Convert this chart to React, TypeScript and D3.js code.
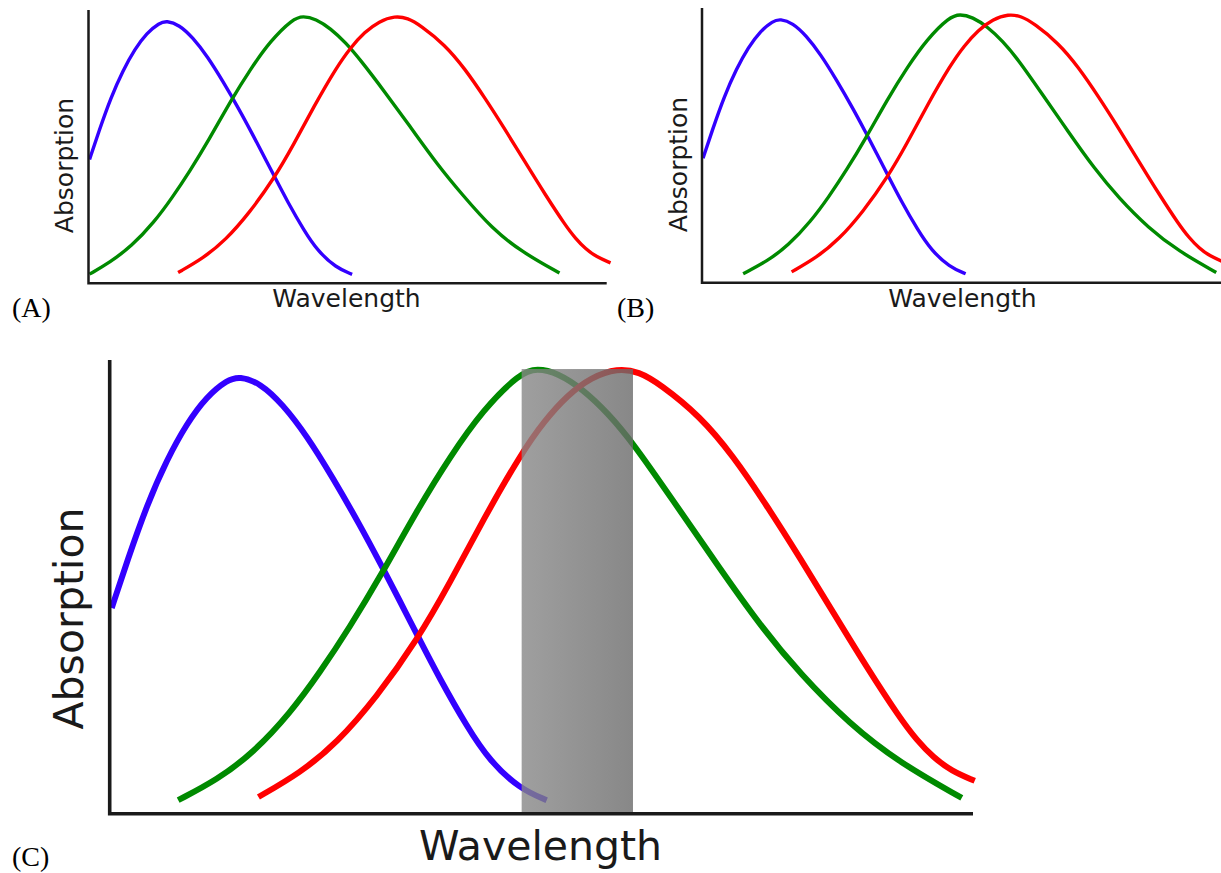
import React, { useEffect, useRef } from "react";
import * as d3 from "d3";

// [wavelength, absorption], both on a 0-100 scale
const blueCone = [[0.2,46],[2,56.5],[4.3,69],[6.6,79],[8.9,87],[11.2,93],[13.6,96.7],[15,97.5],[17.4,96],[20,91.3],[22.8,84.3],[25.8,75],[29,64.3],[31.3,56],[33.6,47.5],[35.6,40],[38.2,30.3],[41.4,19.5],[44,12],[47.5,5.8],[50.6,3.3]];
const greenCone = [[7.9,3.3],[12.4,7.8],[16.6,13.8],[20.9,22.7],[24.3,31.6],[27.8,41.8],[31.3,52.9],[35.6,67.8],[39.4,79.6],[43.2,90],[47.5,98.2],[49.5,99.3],[51.9,98.2],[54.8,94.6],[57.7,89.3],[60.6,82.7],[65.2,70],[70.3,55.8],[75.3,42.2],[80,31.3],[85.7,20.2],[91.5,11.6],[98.7,3.8]];
const redCone = [[17.2,4],[22,9.3],[26.3,16],[30.9,26.2],[35.6,38.9],[39.4,51.6],[43.2,65.5],[47.7,80.5],[50.3,87.5],[53,93.3],[55.8,97.3],[58.8,99.3],[61.3,98.5],[63.7,95.8],[68.4,88.6],[72.2,79.8],[76.1,68.8],[80,57],[83.8,45],[87.7,32.8],[91.5,21.6],[93.5,16.6],[95.4,12.8],[97.5,9.8],[100.2,7.6]];
// panel A: the green cone sits further towards short wavelengths
const greenConeA = [[0.2,3.4],[4.1,7.8],[8.3,13.8],[12.6,22.7],[16,31.6],[19.5,41.8],[23,52.9],[27.3,67.8],[31.1,79.6],[34.9,90],[39.2,98.2],[41.2,99.3],[43.6,98.2],[46.5,94.6],[49.4,89.3],[52.3,82.7],[56.9,71],[62,57.5],[67,44],[71.7,33],[77.5,20.2],[83.2,11.6],[90.4,3.8]];

// highlighted band in panel C
const bandStart = 47.7;
const bandEnd = 60.6;
const bandTop = 99.1;

const panelLetters = ["(A)", "(B)", "(C)"];
const xTitle = "Wavelength";
const yTitle = "Absorption";

const BLUE = "#3300ff";
const GREEN = "#008a00";
const RED = "#ff0000";

const panels = [
  {
    letter: panelLetters[0], series: [blueCone, greenConeA, redCone],
    xr: [88.5, 609.5], yr: [283.3, 14], axis: { left: 88.5, top: 10, bottom: 283.3, right: 606.7, w: 2.5 },
    lineW: 3.4, font: 25, yLab: [73, 165.5], xLab: [346.5, 307], tag: [12, 317], band: false,
  },
  {
    letter: panelLetters[1], series: [blueCone, greenCone, redCone],
    xr: [702, 1223], yr: [282.7, 12.1], axis: { left: 702, top: 8, bottom: 282.7, right: 1221, w: 2.5 },
    lineW: 3.4, font: 25, yLab: [687, 164.5], xLab: [962.5, 307], tag: [617, 317], band: false,
  },
  {
    letter: panelLetters[2], series: [blueCone, greenCone, redCone],
    xr: [110, 973], yr: [815, 365], axis: { left: 109.7, top: 360, bottom: 813.8, right: 973, w: 3.6 },
    lineW: 6, font: 41, yLab: [83, 618.5], xLab: [540.5, 860], tag: [12, 866], band: true,
  },
];

export default function App() {
  const ref = useRef(null);

  useEffect(() => {
    const svg = d3.select(ref.current);
    svg.selectAll("*").remove();

    const grad = svg.append("defs").append("linearGradient").attr("id", "bandGrad");
    grad.append("stop").attr("offset", "0%").attr("stop-color", "#878787");
    grad.append("stop").attr("offset", "100%").attr("stop-color", "#6a6a6a");

    const colors = [BLUE, GREEN, RED];

    panels.forEach((p) => {
      const x = d3.scaleLinear().domain([0, 100]).range(p.xr);
      const y = d3.scaleLinear().domain([0, 100]).range(p.yr);
      const line = d3.line()
        .x((d) => x(d[0]))
        .y((d) => y(d[1]))
        .curve(d3.curveBasis);

      const g = svg.append("g");

      g.selectAll(".cone")
        .data(p.series)
        .enter()
        .append("path")
        .attr("fill", "none")
        .attr("stroke", (d, i) => colors[i])
        .attr("stroke-width", p.lineW)
        .attr("stroke-linecap", "butt")
        .attr("d", line);

      if (p.band) {
        g.append("rect")
          .attr("x", x(bandStart))
          .attr("y", y(bandTop))
          .attr("width", x(bandEnd) - x(bandStart))
          .attr("height", p.axis.bottom - y(bandTop))
          .attr("fill", "url(#bandGrad)")
          .attr("opacity", 0.8);
      }

      // axes: just an L, no ticks
      g.append("path")
        .attr("fill", "none")
        .attr("stroke", "#1a1a1a")
        .attr("stroke-width", p.axis.w)
        .attr("d", `M${p.axis.left},${p.axis.top}V${p.axis.bottom}H${p.axis.right}`);

      g.append("text")
        .attr("transform", `translate(${p.yLab[0]},${p.yLab[1]}) rotate(-90)`)
        .attr("text-anchor", "middle")
        .attr("font-family", "DejaVu Sans")
        .attr("font-size", p.font)
        .attr("fill", "#1a1a1a")
        .text(yTitle);

      g.append("text")
        .attr("x", p.xLab[0])
        .attr("y", p.xLab[1])
        .attr("text-anchor", "middle")
        .attr("font-family", "DejaVu Sans")
        .attr("font-size", p.font)
        .attr("fill", "#1a1a1a")
        .text(xTitle);

      g.append("text")
        .attr("x", p.tag[0])
        .attr("y", p.tag[1])
        .attr("font-family", "Liberation Serif")
        .attr("font-size", 28)
        .attr("fill", "#000")
        .text(p.letter);
    });
  }, []);

  return (
    <svg
      ref={ref}
      width={1221}
      height={873}
      style={{ position: "absolute", left: 0, top: 0, background: "#fff" }}
    />
  );
}
